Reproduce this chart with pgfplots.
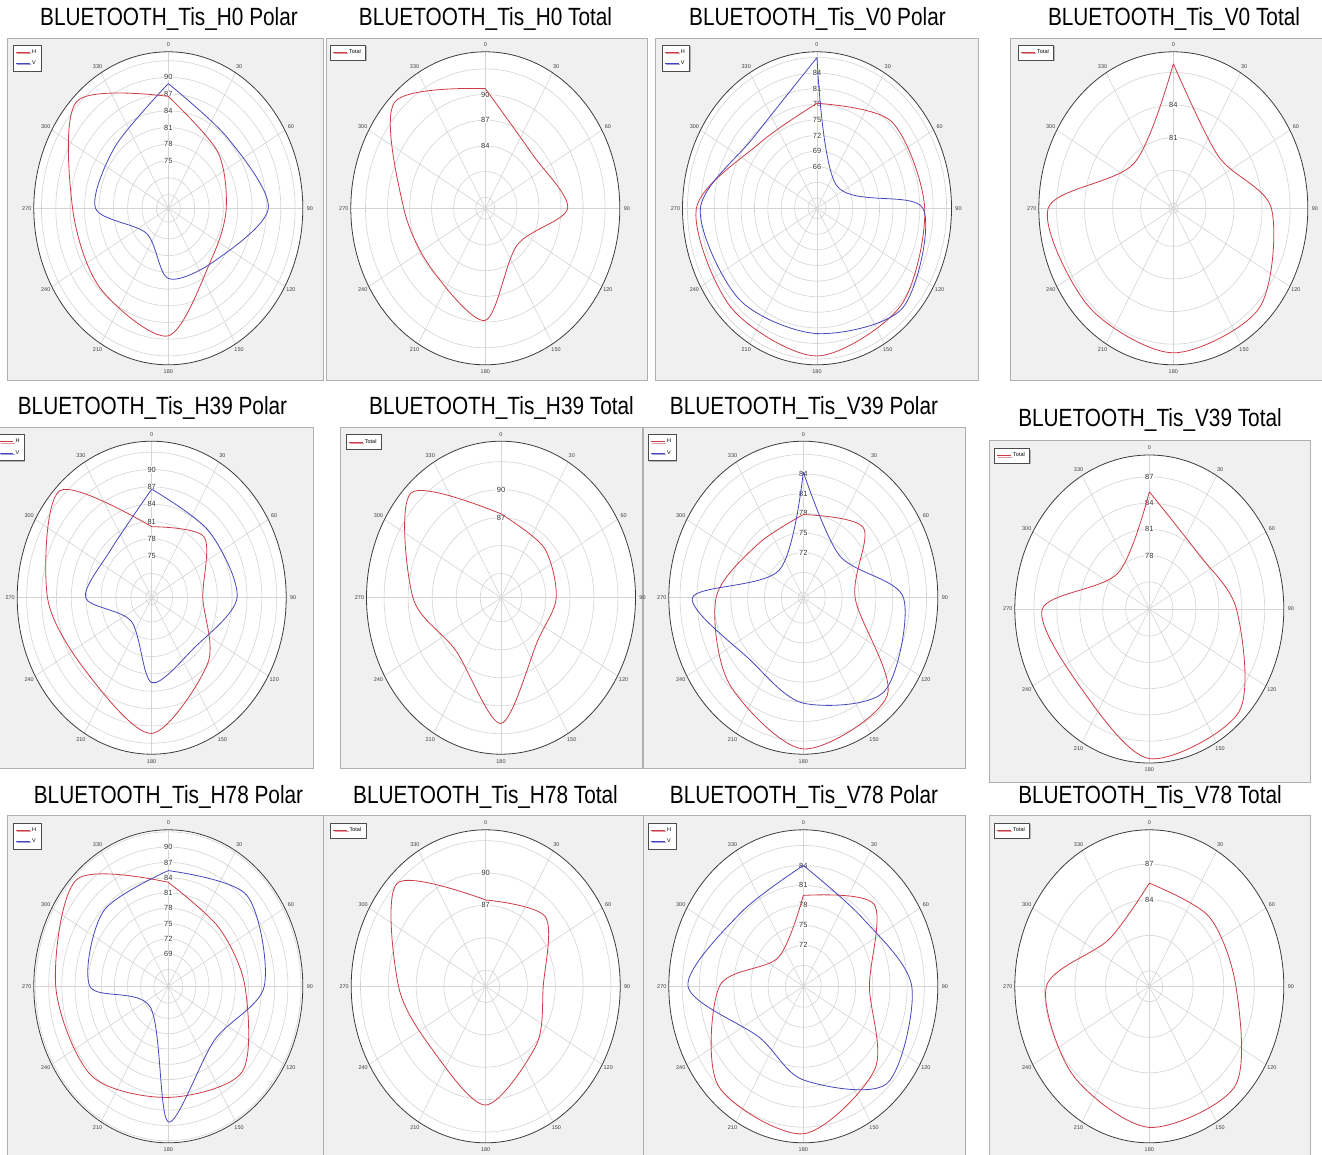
\documentclass[border=0pt]{standalone}
\usepackage{fontspec}
\setmainfont{Liberation Sans}
\newfontfamily\titlefont[FakeStretch=0.835]{Liberation Sans}
\usepackage{pgfplots}
\pgfplotsset{compat=1.18}
\usetikzlibrary{shadows}

\definecolor{hred}{RGB}{205,60,70}
\definecolor{vblue}{RGB}{70,70,190}
\definecolor{gridc}{RGB}{212,212,212}
\definecolor{outerc}{RGB}{60,60,60}
\definecolor{panelbg}{RGB}{240,240,240}
\definecolor{panelbd}{RGB}{175,175,175}

\def\AX{134.5}
\def\AY{156.5}

\newcommand\panelbox[4]{\filldraw[fill=panelbg,draw=panelbd,line width=0.7bp] (#1bp,-#2bp) rectangle (#3bp,-#4bp);}
\newcommand\ptitle[3]{\node[anchor=base,inner sep=0pt,font=\titlefont\fontsize{25}{29}\selectfont] at (#1bp,-#2bp) {#3};}

% cx cy c o rings labels
\newcommand\polargrid[6]{%
\begin{scope}[shift={(#1bp,-#2bp)},x=1bp,y=1bp]
 \fill[white] (0,0) ellipse [x radius=\AX, y radius=\AY];
 \foreach \v in {#5}{\pgfmathsetmacro\rx{(\v-#3)/(#4-#3)*\AX}\pgfmathsetmacro\ry{(\v-#3)/(#4-#3)*\AY}
   \draw[gridc,line width=0.6bp] (0,0) ellipse [x radius=\rx, y radius=\ry];}
 \foreach \t in {0,30,...,330}{\draw[gridc,line width=0.6bp] (0,0) -- ({\AX*sin(\t)},{\AY*cos(\t)});}
 \draw[outerc,line width=0.8bp] (0,0) ellipse [x radius=\AX, y radius=\AY];
 \foreach \t in {0,30,...,330}{\node[inner sep=0pt,text=black!75,font=\fontsize{5.5}{6}\selectfont] at ({(\AX+7)*sin(\t)},{(\AY+7)*cos(\t)}) {\t};}
 \foreach \v in {#6}{\pgfmathsetmacro\ry{(\v-#3)/(#4-#3)*\AY}
   \node[fill=white,inner sep=0.4bp,text=black!80,font=\fontsize{7.5}{8}\selectfont] at (0,\ry) {\v};}
\end{scope}}

\def\XE{(\thisrow{v}-\cv)/(\ov-\cv)*sin(\thisrow{a})}
\def\YE{(\thisrow{v}-\cv)/(\ov-\cv)*cos(\thisrow{a})}

\pgfplotsset{
 pol/.style={anchor=center,scale only axis,width=269bp,height=313bp,
  xmin=-1,xmax=1,ymin=-1,ymax=1,axis lines=none,clip=false,
  legend cell align=left,
  legend style={at={(-0.078,1.022)},anchor=north west,draw=black!70,fill=white,
   font=\fontsize{5.5}{6.5}\selectfont,inner sep=2.6bp,row sep=2bp,
   /tikz/every even column/.append style={column sep=2bp},
   drop shadow={shadow xshift=1.3pt,shadow yshift=-1.3pt,fill=black!50}},
  legend image code/.code={\draw[##1,line width=0.6bp] (0bp,0bp) -- (14bp,0bp);}},
 hp/.style={hred,line width=0.8bp,smooth},
 vp/.style={vblue,line width=0.8bp,smooth}
}

\begin{document}
\begin{tikzpicture}
\useasboundingbox (0,0) rectangle (1322bp,-1155bp);
\fill[white] (0,0) rectangle (1322bp,-1155bp);
\clip (0,0) rectangle (1322bp,-1155bp);

% panel boxes
\panelbox{7}{38}{323}{380}
\panelbox{326}{38}{647}{380}
\panelbox{655}{38}{978}{380}
\panelbox{1010}{38}{1330}{380}
\panelbox{-5}{427}{313}{768}
\panelbox{340}{427}{642}{768}
\panelbox{643}{427}{965}{768}
\panelbox{989}{440}{1310}{782}
\panelbox{7}{815}{323}{1165}
\panelbox{323}{815}{645}{1165}
\panelbox{643}{815}{965}{1165}
\panelbox{989}{815}{1310}{1165}

% titles
\ptitle{169}{25}{BLUETOOTH\_Tis\_H0 Polar}
\ptitle{485.5}{25}{BLUETOOTH\_Tis\_H0 Total}
\ptitle{817.5}{25}{BLUETOOTH\_Tis\_V0 Polar}
\ptitle{1174}{25}{BLUETOOTH\_Tis\_V0 Total}
\ptitle{152.5}{414}{BLUETOOTH\_Tis\_H39 Polar}
\ptitle{501.5}{414}{BLUETOOTH\_Tis\_H39 Total}
\ptitle{804}{414}{BLUETOOTH\_Tis\_V39 Polar}
\ptitle{1150}{426}{BLUETOOTH\_Tis\_V39 Total}
\ptitle{168.5}{803}{BLUETOOTH\_Tis\_H78 Polar}
\ptitle{485.5}{803}{BLUETOOTH\_Tis\_H78 Total}
\ptitle{804}{803}{BLUETOOTH\_Tis\_V78 Polar}
\ptitle{1150}{803}{BLUETOOTH\_Tis\_V78 Total}

% ---------- P1 H0 Polar
\polargrid{168.3}{208.3}{66.5}{94.6}{69,72,75,78,81,84,87,90,93}{90,87,84,81,78,75}
\def\cv{66.5}\def\ov{94.6}
\begin{axis}[pol,at={(168.3bp,-208.3bp)}]
\addplot[hp] table[x expr=\XE,y expr=\YE] {
a v
0 86.6
45 81.0
90 78.6
135 79.3
180 89.4
225 86.7
270 86.5
315 93.6
360 86.6
};
\addlegendentry{H}
\addplot[vp] table[x expr=\XE,y expr=\YE] {
a v
0 88.9
45 84.2
90 87.4
135 80.0
180 79.1
225 72.9
270 81.7
315 82.2
360 88.9
};
\addlegendentry{V}
\end{axis}

% ---------- P2 H0 Total
\polargrid{485.3}{208.3}{76.7}{95.0}{78,81,84,87,90,93}{90,87,84}
\def\cv{76.7}\def\ov{95.0}
\begin{axis}[pol,at={(485.3bp,-208.3bp)}]
\addplot[hp] table[x expr=\XE,y expr=\YE] {
a v
0 90.7
45 85.7
90 87.9
135 82.8
180 89.8
225 86.9
270 87.8
315 94.2
360 90.7
};
\addlegendentry{Total}
\end{axis}

% ---------- P3 V0 Polar
\polargrid{817}{208.3}{58.0}{88.1}{60,63,66,69,72,75,78,81,84,87}{84,81,78,75,72,69,66}
\def\cv{58.0}\def\ov{88.1}
\begin{axis}[pol,at={(817bp,-208.3bp)}]
\addplot[hp] table[x expr=\XE,y expr=\YE] {
a v
0 78.2
45 81.6
90 82.1
135 84.5
180 86.4
225 85.1
270 85.0
315 75.9
360 78.2
};
\addlegendentry{H}
\addplot[vp] table[x expr=\XE,y expr=\YE] {
a v
0 87.0
45 64.2
90 81.7
135 85.1
180 82.1
225 82.7
270 84.1
315 77.7
360 87.0
};
\addlegendentry{V}
\end{axis}

% ---------- P4 V0 Total
\polargrid{1173.3}{208.3}{74.5}{88.9}{75,78,81,84,87}{84,81}
\def\cv{74.5}\def\ov{88.9}
\begin{axis}[pol,at={(1173.3bp,-208.3bp)}]
\addplot[hp] table[x expr=\XE,y expr=\YE] {
a v
0 87.8
45 81.3
90 85.0
135 87.5
180 87.8
225 87.3
270 87.9
315 80.4
360 87.8
};
\addlegendentry{Total}
\end{axis}

% ---------- P5 H39 Polar
\polargrid{151.7}{597.7}{67.8}{94.9}{69,72,75,78,81,84,87,90,93}{90,87,84,81,78,75}
\def\cv{67.8}\def\ov{94.9}
\begin{axis}[pol,at={(151.7bp,-597.7bp)}]
\addplot[hp] table[x expr=\XE,y expr=\YE] {
a v
0 80.1
45 82.7
90 78.1
135 83.8
180 91.3
225 86.2
270 88.8
315 94.0
360 80.1
};
\addlegendentry{H}
\addplot[vp] table[x expr=\XE,y expr=\YE] {
a v
0 86.6
45 84.1
90 85.0
135 80.0
180 82.5
225 73.6
270 81.1
315 79.5
360 86.6
};
\addlegendentry{V}
\end{axis}

% ---------- P6 H39 Total
\polargrid{501}{597.7}{78.4}{95.2}{81,84,87,90,93}{90,87}
\def\cv{78.4}\def\ov{95.2}
\begin{axis}[pol,at={(501bp,-597.7bp)}]
\addplot[hp] table[x expr=\XE,y expr=\YE] {
a v
0 87.4
45 86.0
90 85.3
135 84.9
180 91.9
225 86.4
270 89.4
315 94.3
360 87.4
};
\addlegendentry{Total}
\end{axis}

% ---------- P7 V39 Polar
\polargrid{803.3}{597.7}{65.1}{89.0}{66,69,72,75,78,81,84,87}{84,81,78,75,72}
\def\cv{65.1}\def\ov{89.0}
\begin{axis}[pol,at={(803.3bp,-597.7bp)}]
\addplot[hp] table[x expr=\XE,y expr=\YE] {
a v
0 77.8
45 80.2
90 74.3
135 86.2
180 88.2
225 83.7
270 80.6
315 76.6
360 77.8
};
\addlegendentry{H}
\addplot[vp] table[x expr=\XE,y expr=\YE] {
a v
0 84.3
45 74.2
90 82.9
135 85.4
180 81.2
225 78.5
270 84.8
315 71.1
360 84.3
};
\addlegendentry{V}
\end{axis}

% ---------- P8 V39 Total
\def\AY{154}
\polargrid{1149.3}{609}{71.9}{89.5}{72,75,78,81,84,87}{87,84,81,78}
\def\cv{71.9}\def\ov{89.5}
\begin{axis}[pol,height=308bp,at={(1149.3bp,-609bp)}]
\addplot[hp] table[x expr=\XE,y expr=\YE] {
a v
0 85.3
45 80.9
90 83.3
135 88.5
180 89.0
225 84.6
270 85.9
315 77.7
360 85.3
};
\addlegendentry{Total}
\end{axis}
\def\AY{156.5}

% ---------- P9 H78 Polar
\polargrid{168.3}{986.3}{62.7}{93.4}{63,66,69,72,75,78,81,84,87,90,93}{90,87,84,81,78,75,72,69}
\def\cv{62.7}\def\ov{93.4}
\begin{axis}[pol,at={(168.3bp,-986.3bp)}]
\addplot[hp] table[x expr=\XE,y expr=\YE] {
a v
0 83.1
45 79.0
90 80.2
135 86.5
180 84.5
225 87.5
270 88.4
315 92.3
360 83.1
};
\addlegendentry{H}
\addplot[vp] table[x expr=\XE,y expr=\YE] {
a v
0 85.4
45 88.0
90 84.6
135 77.6
180 89.3
225 68.5
270 80.6
315 83.6
360 85.4
};
\addlegendentry{V}
\end{axis}

% ---------- P10 H78 Total
\polargrid{485.7}{986.3}{79.5}{94.0}{81,84,87,90,93}{90,87}
\def\cv{79.5}\def\ov{94.0}
\begin{axis}[pol,at={(485.7bp,-986.3bp)}]
\addplot[hp] table[x expr=\XE,y expr=\YE] {
a v
0 87.5
45 88.6
90 85.7
135 87.2
180 90.5
225 87.7
270 88.9
315 93.0
360 87.5
};
\addlegendentry{Total}
\end{axis}

% ---------- P11 V78 Polar
\polargrid{803.3}{986.3}{65.85}{89.35}{66,69,72,75,78,81,84,87}{84,81,78,75,72}
\def\cv{65.85}\def\ov{89.35}
\begin{axis}[pol,at={(803.3bp,-986.3bp)}]
\addplot[hp] table[x expr=\XE,y expr=\YE] {
a v
0 79.5
45 83.3
90 77.4
135 83.5
180 88.0
225 86.9
270 80.5
315 72.0
360 79.5
};
\addlegendentry{H}
\addplot[vp] table[x expr=\XE,y expr=\YE] {
a v
0 84.0
45 80.4
90 84.8
135 86.5
180 79.9
225 76.7
270 86.0
315 81.4
360 84.0
};
\addlegendentry{V}
\end{axis}

% ---------- P12 V78 Total
\polargrid{1149.3}{986.3}{76.7}{89.9}{78,81,84,87}{87,84}
\def\cv{76.7}\def\ov{89.9}
\begin{axis}[pol,at={(1149.3bp,-986.3bp)}]
\addplot[hp] table[x expr=\XE,y expr=\YE] {
a v
0 85.4
45 85.0
90 85.2
135 88.6
180 88.6
225 87.3
270 86.8
315 82.3
360 85.4
};
\addlegendentry{Total}
\end{axis}

\end{tikzpicture}
\end{document}
